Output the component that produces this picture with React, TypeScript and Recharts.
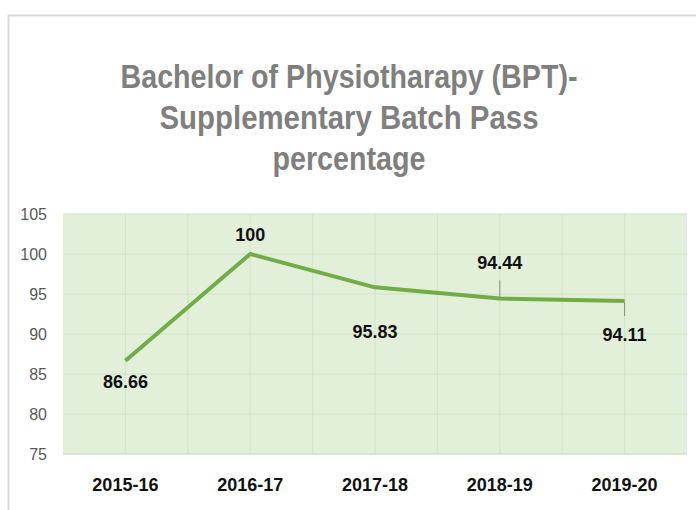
import { LineChart, Line, XAxis, YAxis, CartesianGrid, LabelList } from 'recharts';

const years = ['2015-16', '2016-17', '2017-18', '2018-19', '2019-20'];
const passPct = [86.66, 100, 95.83, 94.44, 94.11];
const yTicks = [75, 80, 85, 90, 95, 100, 105];
const titleLines = ['Bachelor of Physiotharapy (BPT)-', 'Supplementary Batch Pass', 'percentage'];

const data = years.map((year, i) => ({ year, pass: passPct[i] }));

const FONT = "'Liberation Sans', Arial, sans-serif";

// title line widths, squeezed to look like the narrow original face
const titleWidths = [457, 379, 153];

// where each value label sits relative to its point, and whether it gets a leader line
const labelPlace = [
  { dy: 21, leader: null },
  { dy: -19, leader: null },
  { dy: 45, leader: null },
  { dy: -35, leader: [-18, -1] },
  { dy: 34, leader: [1, 15] },
];

const ValueLabel = (props: any) => {
  const { x, y, value, index } = props;
  const p = labelPlace[index];
  return (
    <g>
      {p.leader && (
        <line x1={x} x2={x} y1={y + p.leader[0]} y2={y + p.leader[1]} stroke="#8c8c8c" strokeWidth={1} />
      )}
      <text
        x={x}
        y={y + p.dy}
        textAnchor="middle"
        dominantBaseline="central"
        fontFamily={FONT}
        fontWeight="bold"
        fontSize={18}
        fill="#111"
      >
        {value}
      </text>
    </g>
  );
};

const App = () => {
  return (
    <div style={{ position: 'absolute', left: 0, top: 0, width: 696, height: 510, background: '#fff' }}>
      <LineChart
        width={696}
        height={510}
        data={data}
        margin={{ top: 214, right: 9, left: 13, bottom: 16 }}
      >
        <CartesianGrid
          fill="#e2efd9"
          stroke="#d3e2c8"
          verticalCoordinatesGenerator={({ offset }: any) =>
            Array.from({ length: 9 }, (_, i) => offset.left + ((i + 1) * offset.width) / 10)
          }
        />
        <XAxis
          dataKey="year"
          height={40}
          padding={{ left: 62.4, right: 62.4 }}
          axisLine={{ stroke: '#d0dcc6' }}
          tickLine={false}
          tickMargin={18}
          tick={{ fill: '#111', fontSize: 18, fontWeight: 'bold', fontFamily: FONT }}
        />
        <YAxis
          width={50}
          domain={[75, 105]}
          ticks={yTicks}
          axisLine={false}
          tickLine={false}
          tickMargin={10}
          tick={{ fill: '#595959', fontSize: 16, fontFamily: FONT }}
        />
        <Line
          dataKey="pass"
          stroke="#70ad47"
          strokeWidth={4}
          strokeLinejoin="round"
          dot={false}
          isAnimationActive={false}
        >
          <LabelList dataKey="pass" content={ValueLabel} />
        </Line>
      </LineChart>
      <svg width={696} height={510} style={{ position: 'absolute', left: 0, top: 0, pointerEvents: 'none' }}>
        <line x1={8.5} x2={8.5} y1={15} y2={510} stroke="#d9d9d9" strokeWidth={2} />
        <line x1={8} x2={696} y1={15.5} y2={15.5} stroke="#d9d9d9" strokeWidth={2} />
        {titleLines.map((t, i) => (
          <text
            key={t}
            x={349}
            y={88 + i * 41}
            textAnchor="middle"
            textLength={titleWidths[i]}
            lengthAdjust="spacingAndGlyphs"
            fontFamily={FONT}
            fontWeight="bold"
            fontSize={33}
            fill="#7f7f7f"
          >
            {t}
          </text>
        ))}
      </svg>
    </div>
  );
};

export default App;
